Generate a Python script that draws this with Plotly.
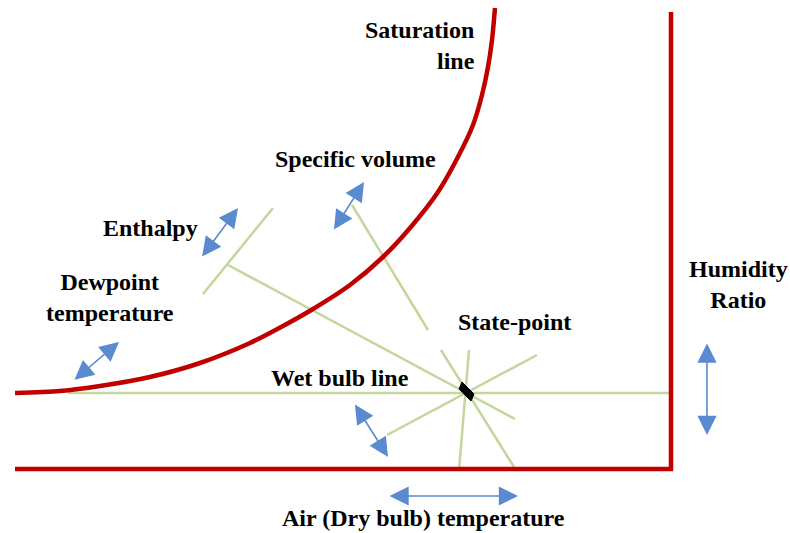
import plotly.graph_objects as go

# ---- data (diagram coordinates, pixel-like units, y downward) ----
sat_x = [15, 60, 100, 150, 200, 250, 283, 313, 350, 383, 410, 438, 460, 473, 482, 488, 492, 495]
sat_y = [393, 391, 386, 377, 363, 343, 326, 309, 285, 257, 228, 192, 153, 125, 95, 67, 40, 8]

axis_x = [15, 671, 671]
axis_y = [469, 469, 12]

# green property lines through / near the state point: (x0, y0, x1, y1)
green_lines = [
    (68, 393, 669, 393),     # humidity ratio / dewpoint horizontal
    (459, 470, 469, 350),    # near-vertical dry bulb line
    (441, 350, 514, 467),    # specific volume (lower part)
    (352, 205, 428, 330),    # specific volume (upper part)
    (228, 265, 515, 419),    # enthalpy / wet bulb line
    (203, 294, 273, 208),    # enthalpy cap
    (387, 435, 537, 355),    # relative humidity direction
]

state_x = [462, 474, 471, 459, 462]
state_y = [382, 394, 401, 389, 382]

# double-headed arrows: (x0, y0, x1, y1)
arrows = [
    (73, 381, 119, 342),     # dewpoint
    (201, 258, 238, 208),    # enthalpy
    (333, 231, 364, 182),    # specific volume
    (354, 403, 388, 457),    # wet bulb
    (707, 342, 707, 435),    # humidity ratio
    (388, 496, 518, 496),    # dry bulb
]

labels = [
    ("Saturation<br>line", 477, 45, "right"),
    ("Specific volume", 355, 159, "center"),
    ("Enthalpy", 150, 228, "center"),
    ("Dewpoint<br>temperature", 110, 297, "center"),
    ("State-point", 514, 322, "center"),
    ("Wet bulb line", 340, 378, "center"),
    ("Humidity<br>Ratio", 738, 284, "center"),
    ("Air (Dry bulb) temperature", 423, 518, "center"),
]

RED = "#C00000"
GREEN = "#C3D69B"
BLUE = "#5A8AD0"

fig = go.Figure()

for (x0, y0, x1, y1) in green_lines:
    fig.add_trace(go.Scatter(x=[x0, x1], y=[y0, y1], mode="lines",
                             line=dict(color=GREEN, width=2.5),
                             hoverinfo="skip", showlegend=False))

fig.add_trace(go.Scatter(x=sat_x, y=sat_y, mode="lines",
                         line=dict(color=RED, width=4.5, shape="spline", smoothing=0.8),
                         hoverinfo="skip", showlegend=False))

fig.add_trace(go.Scatter(x=axis_x, y=axis_y, mode="lines",
                         line=dict(color=RED, width=4.5),
                         hoverinfo="skip", showlegend=False))

fig.add_trace(go.Scatter(x=state_x, y=state_y, mode="lines", fill="toself",
                         fillcolor="black", line=dict(color="black", width=1),
                         hoverinfo="skip", showlegend=False))

for (x0, y0, x1, y1) in arrows:
    fig.add_annotation(x=x1, y=y1, ax=x0, ay=y0, xref="x", yref="y",
                       axref="x", ayref="y", text="", showarrow=True,
                       arrowhead=2, startarrowhead=2, arrowside="end+start",
                       arrowsize=2.4, startarrowsize=2.4, arrowwidth=1.6,
                       arrowcolor=BLUE, standoff=0, startstandoff=0)

for (txt, x, y, al) in labels:
    fig.add_annotation(x=x, y=y, xref="x", yref="y", text="<b>" + txt + "</b>",
                       showarrow=False, align=al,
                       xanchor="right" if al == "right" else "center",
                       yanchor="middle",
                       font=dict(family="Liberation Serif", size=24, color="black"))

fig.update_xaxes(range=[0, 790], visible=False, fixedrange=True)
fig.update_yaxes(range=[533, 0], visible=False, fixedrange=True)
fig.update_layout(width=790, height=533, margin=dict(l=0, r=0, t=0, b=0),
                  plot_bgcolor="white", paper_bgcolor="white")

fig.write_html("out.html", config={"displayModeBar": False},
               post_script="document.body.style.margin='0';document.body.style.overflow='hidden';")
